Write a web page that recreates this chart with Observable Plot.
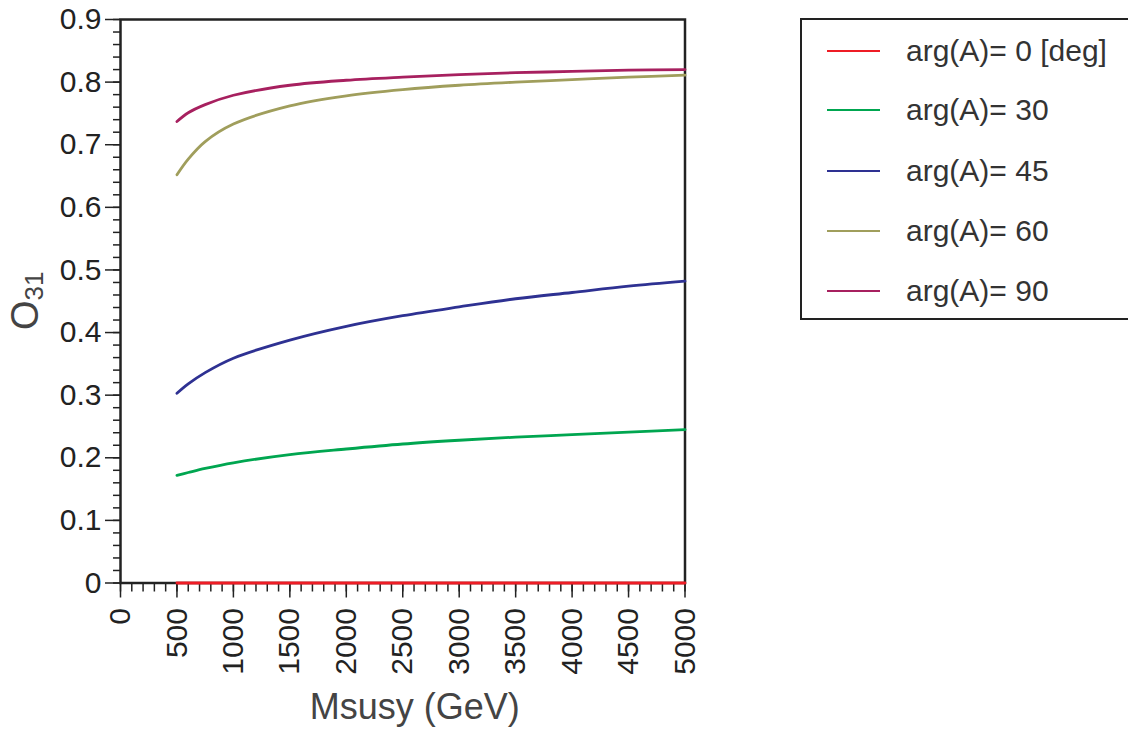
<!DOCTYPE html>
<html>
<head>
<meta charset="utf-8">
<script src="https://cdn.jsdelivr.net/npm/d3@7"></script>
<script src="https://cdn.jsdelivr.net/npm/@observablehq/plot@0.6"></script>
<style>
  html, body { margin: 0; padding: 0; background: #fff; overflow: hidden; }
  #wrap { position: relative; width: 1128px; height: 731px; font-family: "Liberation Sans", Arial, sans-serif; }
  #legend { position: absolute; left: 800px; top: 18px; width: 360px; height: 302px; border: 2px solid #222; box-sizing: border-box; }
  .sw { position: absolute; left: 25px; width: 53px; height: 2.5px; }
  .lab { position: absolute; left: 104px; font-size: 30px; color: #333; white-space: nowrap; line-height: 34px; }
</style>
</head>
<body>
<div id="wrap"><div id="legend"></div></div>
<script>
// Data
const msusy = [500, 600, 750, 1000, 1500, 2000, 2500, 3000, 3500, 4000, 4500, 5000];
const o31_arg0  = [0, 0, 0, 0, 0, 0, 0, 0, 0, 0, 0, 0];
const o31_arg30 = [0.172, 0.1765, 0.183, 0.192, 0.205, 0.214, 0.222, 0.228, 0.233, 0.237, 0.241, 0.245];
const o31_arg45 = [0.303, 0.318, 0.336, 0.359, 0.388, 0.410, 0.427, 0.441, 0.454, 0.464, 0.474, 0.482];
const o31_arg60 = [0.652, 0.677, 0.705, 0.733, 0.762, 0.778, 0.788, 0.795, 0.800, 0.804, 0.808, 0.811];
const o31_arg90 = [0.737, 0.751, 0.764, 0.779, 0.795, 0.803, 0.808, 0.812, 0.815, 0.817, 0.819, 0.820];
const seriesNames = ["arg(A)= 0 [deg]", "arg(A)= 30", "arg(A)= 45", "arg(A)= 60", "arg(A)= 90"];
const seriesColors = ["#ee1c25", "#00a650", "#2e3192", "#a09e5c", "#a7205f"];
const xTicks = [0, 500, 1000, 1500, 2000, 2500, 3000, 3500, 4000, 4500, 5000];
const yTicks = [0, 0.1, 0.2, 0.3, 0.4, 0.5, 0.6, 0.7, 0.8, 0.9];
const xLabel = "Msusy (GeV)";

const allSeries = [o31_arg0, o31_arg30, o31_arg45, o31_arg60, o31_arg90];
const rows = [];
allSeries.forEach((vals, i) => vals.forEach((v, j) => rows.push({name: seriesNames[i], m: msusy[j], o: v})));

const xMinor = d3.range(0, 5001, 100);
const yMinor = d3.range(0, 91, 2).map(d => d / 100);

const chart = Plot.plot({
  width: 1128,
  height: 731,
  marginLeft: 120,
  marginRight: 443.5,
  marginTop: 19,
  marginBottom: 148.5,
  style: {fontFamily: "'Liberation Sans', Arial, sans-serif", background: "transparent", color: "#222"},
  x: {domain: [0, 5000]},
  y: {domain: [0, 0.9]},
  color: {domain: seriesNames, range: seriesColors},
  marks: [
    Plot.axisY(yMinor, {tickSize: 7, tickFormat: () => "", label: null, strokeWidth: 1.5}),
    Plot.axisY(yTicks, {tickSize: 15, tickPadding: 4, fontSize: 30, tickFormat: d => d === 0 ? "0" : d.toFixed(1), label: null, strokeWidth: 1.5}),
    Plot.axisX(xMinor, {tickSize: 9, tickFormat: () => "", label: null, strokeWidth: 1.5}),
    Plot.axisX(xTicks, {tickSize: 15, tickPadding: 10, tickRotate: -90, fontSize: 30, tickFormat: d => String(d), label: null, strokeWidth: 1.5}),
    Plot.frame({stroke: "#222", strokeWidth: 2.5}),
    Plot.lineY(rows, {x: "m", y: "o", z: "name", stroke: "name", strokeWidth: 2.8, curve: "catmull-rom"}),
    Plot.text([xLabel], {frameAnchor: "bottom", dx: 12, dy: 136, fontSize: 36, fill: "#444", lineAnchor: "bottom"})
  ]
});
document.getElementById("wrap").prepend(chart);

// y-axis title with subscript
const svg = d3.select(chart);
const yl = svg.append("text")
  .attr("transform", "translate(38,330) rotate(-90)")
  .attr("fill", "#444")
  .attr("font-family", "'Liberation Sans', Arial, sans-serif")
  .attr("text-anchor", "start");
yl.append("tspan").attr("font-size", 38).text("O");
yl.append("tspan").attr("font-size", 26).attr("dy", 5).text("31");

// legend
const legend = document.getElementById("legend");
const centers = [31, 90, 151, 211, 271];
seriesNames.forEach((n, i) => {
  const sw = document.createElement("div");
  sw.className = "sw";
  sw.style.top = (centers[i] - 1.25) + "px";
  sw.style.background = seriesColors[i];
  legend.appendChild(sw);
  const lab = document.createElement("div");
  lab.className = "lab";
  lab.style.top = (centers[i] - 17) + "px";
  lab.textContent = n;
  legend.appendChild(lab);
});
</script>
</body>
</html>
